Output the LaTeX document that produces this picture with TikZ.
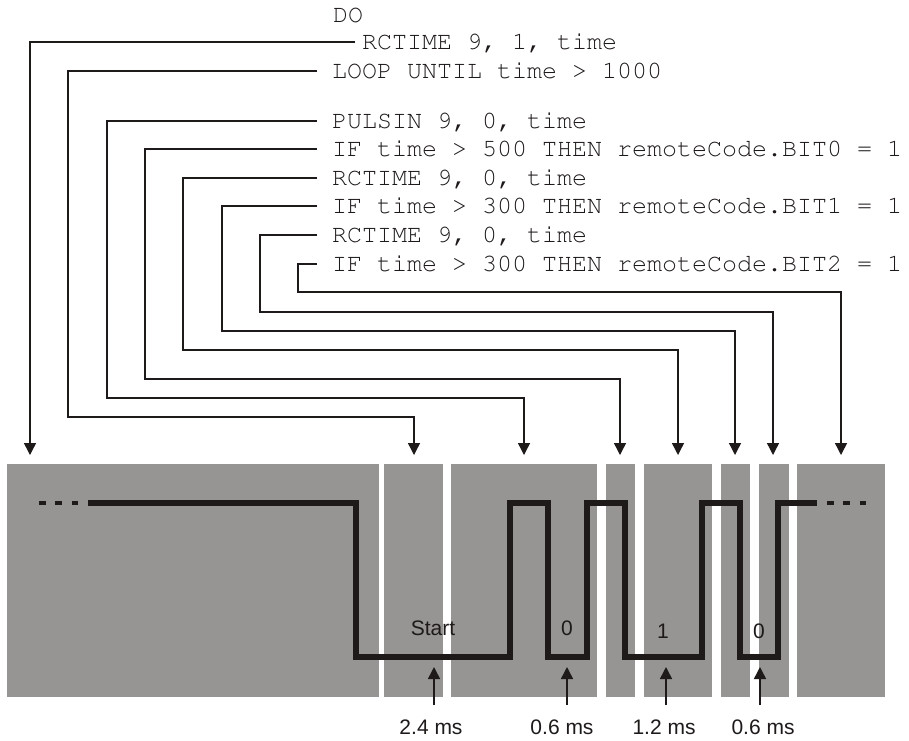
\documentclass[tikz,border=0pt]{standalone}
\usepackage{fontspec}
\setmainfont{Liberation Sans}
\setmonofont{Liberation Mono}
\usetikzlibrary{arrows.meta}
\definecolor{blockgray}{RGB}{150,149,147}
\definecolor{wavecol}{RGB}{30,26,25}
\definecolor{inkcol}{RGB}{30,26,25}
\newcommand{\couriertext}{\fontencoding{T1}\fontfamily{pcr}\fontseries{m}\fontshape{n}\fontsize{25}{30}\selectfont}
\begin{document}
\begin{tikzpicture}[x=1pt,y=-1pt,
  code/.style={font=\couriertext, anchor=west, inner sep=0pt, text height=15pt, text depth=0pt, text=inkcol},
  lbl/.style={font=\fontsize{21}{25}\selectfont, inner sep=0pt, text height=15pt, text depth=0pt, text=inkcol},
  conn/.style={line width=1.4pt, draw=inkcol, -{Triangle[width=12pt,length=12pt]}},
  uparr/.style={line width=1.6pt, draw=inkcol, -{Triangle[width=12pt,length=12pt]}},
  blk/.style={fill=blockgray},
  wave/.style={line width=5.5pt, draw=wavecol, line join=miter},
  dashend/.style={line width=4.3pt, draw=wavecol, dash pattern=on 6.5pt off 9.75pt}]
\useasboundingbox (0,0) rectangle (909,740);
\fill[white] (0,0) rectangle (909,740);

% gray blocks
\fill[blk] (7,464) rectangle (379,697);
\fill[blk] (384,464) rectangle (443,697);
\fill[blk] (451,464) rectangle (597,697);
\fill[blk] (606,464) rectangle (635,697);
\fill[blk] (644,464) rectangle (712,697);
\fill[blk] (721,464) rectangle (750,697);
\fill[blk] (759,464) rectangle (789,697);
\fill[blk] (797,464) rectangle (885,697);

% code
\node[code] (t0) at (333,15) {DO};
\node[code] (t1) at (362,42) {RCTIME 9, 1, time};
\node[code] (t2) at (332,71) {LOOP UNTIL time > 1000};
\node[code] (t3) at (332,121) {PULSIN 9, 0, time};
\node[code] (t4) at (332,149) {IF time > 500 THEN remoteCode.BIT0 = 1};
\node[code] (t5) at (332,178) {RCTIME 9, 0, time};
\node[code] (t6) at (332,206) {IF time > 300 THEN remoteCode.BIT1 = 1};
\node[code] (t7) at (332,235) {RCTIME 9, 0, time};
\node[code] (t8) at (332,264) {IF time > 300 THEN remoteCode.BIT2 = 1};

% connector corners and targets
\coordinate (a1) at (30,455);
\coordinate (k2) at (68,417);  \coordinate (a2) at (414,455);
\coordinate (k3) at (107,398); \coordinate (a3) at (524,455);
\coordinate (k4) at (145,379); \coordinate (a4) at (620,455);
\coordinate (k5) at (183,350); \coordinate (a5) at (678,455);
\coordinate (k6) at (222,331); \coordinate (a6) at (735,455);
\coordinate (k7) at (260,312); \coordinate (a7) at (773,455);
\coordinate (k8) at (298,292); \coordinate (a8) at (841,455);

\draw[conn] ([xshift=-7pt]t1.west) -| (a1);
\draw[conn] ([xshift=-15pt]t2.west) -| (k2) -| (a2);
\draw[conn] ([xshift=-15pt]t3.west) -| (k3) -| (a3);
\draw[conn] ([xshift=-15pt]t4.west) -| (k4) -| (a4);
\draw[conn] ([xshift=-15pt]t5.west) -| (k5) -| (a5);
\draw[conn] ([xshift=-15pt]t6.west) -| (k6) -| (a6);
\draw[conn] ([xshift=-15pt]t7.west) -| (k7) -| (a7);
\draw[conn] ([xshift=-15pt]t8.west) -| (k8) -| (a8);

% waveform
\draw[dashend] (39,503) -- (78,503);
\draw[wave] (88,503) -- (356,503) -- (356,657) -- (510,657) -- (510,503)
  -- (548,503) -- (548,657) -- (587,657) -- (587,503) -- (625,503)
  -- (625,657) -- (702,657) -- (702,503) -- (740,503) -- (740,657)
  -- (778,657) -- (778,503) -- (817,503);
\draw[dashend] (827,503) -- (866,503);

% bit labels
\node[lbl] (s) at (433,628) {Start};
\node[lbl] (b0) at (567,628) {0};
\node[lbl] (b1) at (663,631) {1};
\node[lbl] (b2) at (759,631) {0};

% time labels and arrows
\node[lbl] (m1) at (431,727) {2.4 ms};
\node[lbl] (m2) at (562,727) {0.6 ms};
\node[lbl] (m3) at (664,727) {1.2 ms};
\node[lbl] (m4) at (763,727) {0.6 ms};
\coordinate (u1b) at (434,705); \coordinate (u1t) at (434,667);
\coordinate (u2b) at (567,705); \coordinate (u2t) at (567,667);
\coordinate (u3b) at (666,705); \coordinate (u3t) at (666,667);
\coordinate (u4b) at (760,705); \coordinate (u4t) at (760,667);
\draw[uparr] (u1b) -- (u1t);
\draw[uparr] (u2b) -- (u2t);
\draw[uparr] (u3b) -- (u3t);
\draw[uparr] (u4b) -- (u4t);
\end{tikzpicture}
\end{document}
